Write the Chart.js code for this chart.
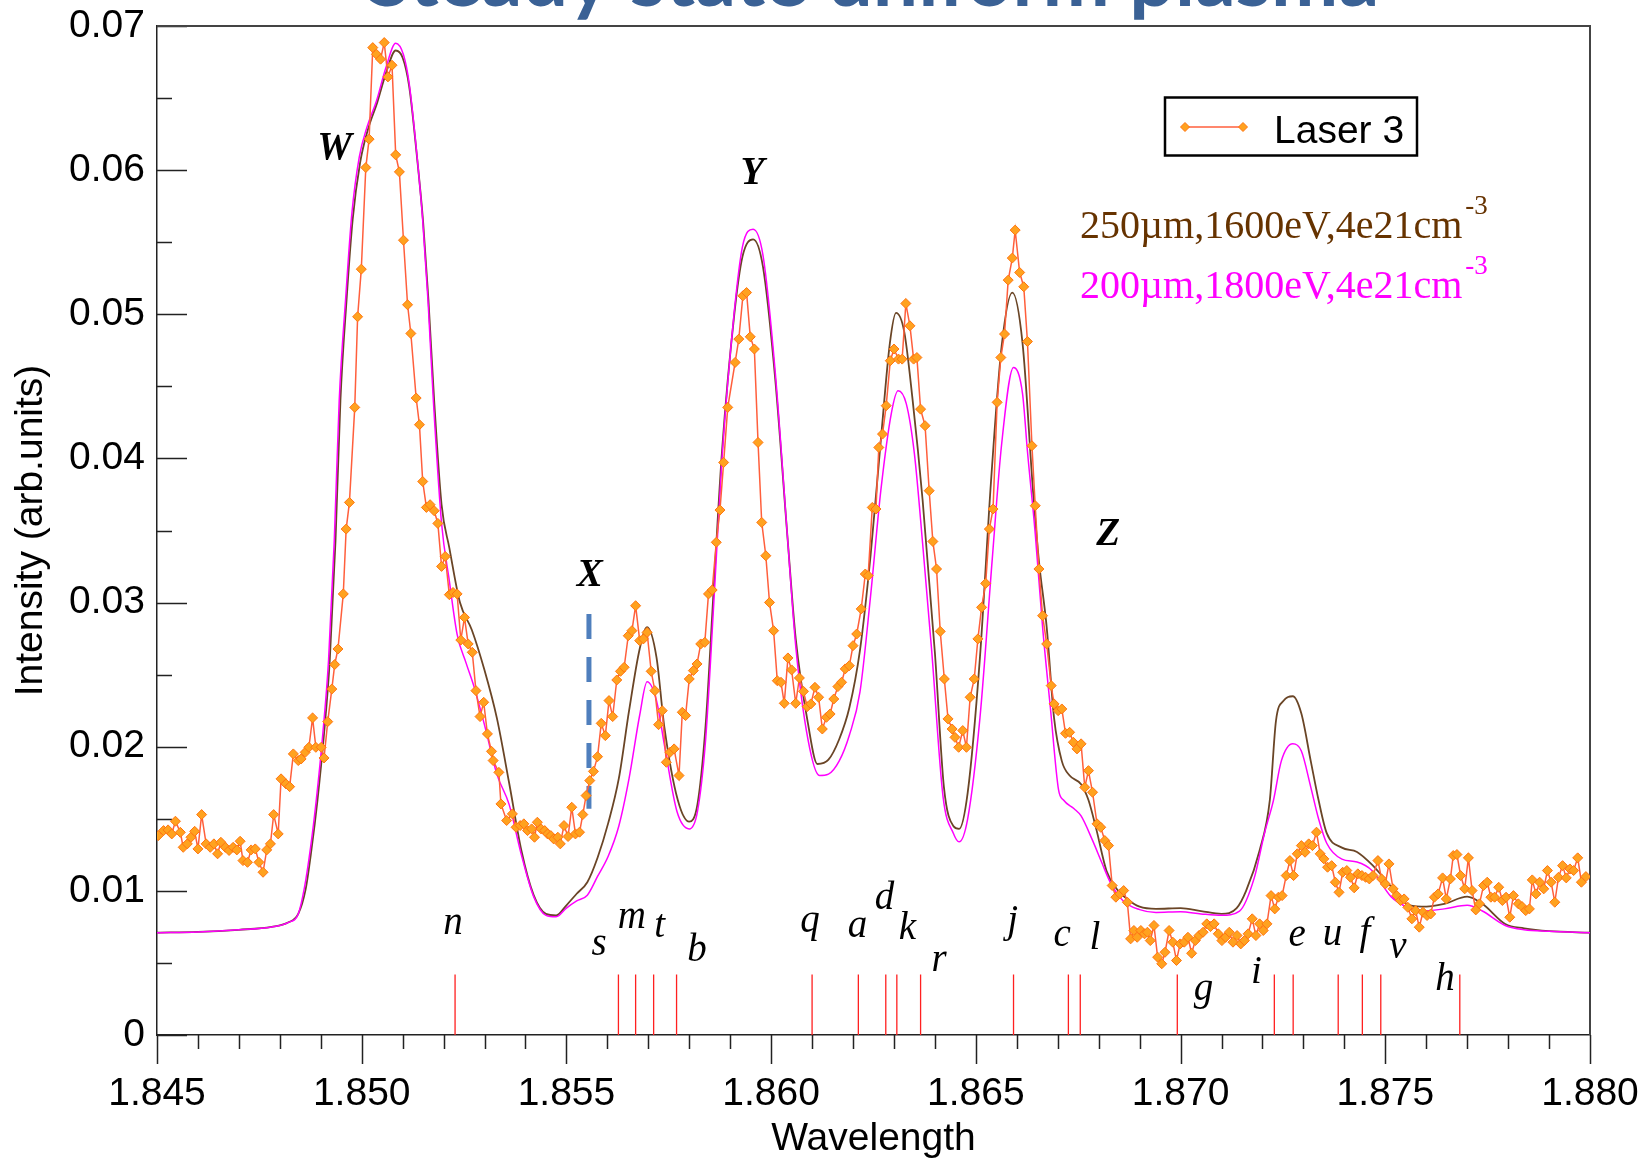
<!DOCTYPE html>
<html lang="en"><head><meta charset="utf-8"><title>Steady state uniform plasma</title>
<script src="https://cdn.jsdelivr.net/npm/chart.js@4.4.1/dist/chart.umd.min.js"></script>
<style>
  html, body { margin: 0; background: #fff; }
  canvas { display: block; }
</style></head>
<body>
<canvas id="c" width="1645" height="1161"></canvas>
<script>
const LASER_3 = [
  [1.84503,.01383],[1.84516,.01418],[1.84527,.01423],[1.84536,.01395],[1.84545,.01483],[1.84557,.01406],
  [1.84564,.01302],[1.84574,.01326],[1.84583,.01372],[1.84592,.01413],[1.84600,.01291],[1.84609,.01529],
  [1.84620,.01326],[1.84630,.01302],[1.84639,.01326],[1.84648,.01257],[1.84656,.01337],[1.84667,.01302],
  [1.84676,.01280],[1.84686,.01302],[1.84695,.01284],[1.84703,.01344],[1.84710,.01210],[1.84721,.01198],
  [1.84730,.01284],[1.84740,.01291],[1.84749,.01198],[1.84759,.01129],[1.84768,.01284],[1.84777,.01326],
  [1.84785,.01529],[1.84796,.01395],[1.84803,.01777],[1.84815,.01742],[1.84824,.01723],[1.84833,.01950],
  [1.84845,.01904],[1.84852,.01915],[1.84862,.01961],[1.84871,.01996],[1.84880,.02200],[1.84888,.01996],
  [1.84901,.01996],[1.84908,.01922],[1.84917,.02174],[1.84927,.02400],[1.84934,.02570],[1.84942,.02678],
  [1.84955,.03060],[1.84962,.03510],[1.84970,.03695],[1.84983,.04354],[1.84990,.04983],[1.84999,.05313],
  [1.85010,.06018],[1.85018,.06215],[1.85027,.06850],[1.85036,.06804],[1.85046,.06770],[1.85055,.06885],
  [1.85064,.06647],[1.85074,.06728],[1.85083,.06106],[1.85092,.05988],[1.85102,.05514],[1.85112,.05066],
  [1.85120,.04867],[1.85133,.04419],[1.85141,.04234],[1.85149,.03840],[1.85158,.03660],[1.85167,.03679],
  [1.85177,.03637],[1.85186,.03549],[1.85195,.03251],[1.85204,.03320],[1.85214,.03055],[1.85223,.03070],
  [1.85233,.03060],[1.85242,.02740],[1.85251,.02897],[1.85260,.02713],[1.85270,.02655],[1.85279,.02389],
  [1.85289,.02209],[1.85298,.02308],[1.85307,.02089],[1.85317,.01968],[1.85321,.01904],[1.85335,.01822],
  [1.85340,.01603],[1.85354,.01488],[1.85368,.01534],[1.85377,.01441],[1.85387,.01453],[1.85396,.01465],
  [1.85405,.01418],[1.85415,.01430],[1.85422,.01372],[1.85429,.01476],[1.85438,.01430],[1.85447,.01418],
  [1.85454,.01395],[1.85462,.01383],[1.85469,.01360],[1.85479,.01372],[1.85485,.01326],[1.85494,.01453],
  [1.85504,.01377],[1.85513,.01580],[1.85522,.01395],[1.85532,.01407],[1.85540,.01529],[1.85548,.01661],
  [1.85557,.01765],[1.85566,.01829],[1.85576,.01931],[1.85585,.02162],[1.85595,.02077],[1.85604,.02320],
  [1.85613,.02209],[1.85623,.02463],[1.85632,.02523],[1.85641,.02551],[1.85651,.02770],[1.85660,.02805],
  [1.85669,.02978],[1.85679,.02736],[1.85688,.02748],[1.85697,.02793],[1.85707,.02523],[1.85716,.02389],
  [1.85725,.02153],[1.85734,.02250],[1.85744,.01892],[1.85753,.01961],[1.85763,.01985],[1.85775,.01800],
  [1.85783,.02239],[1.85791,.02216],[1.85800,.02470],[1.85810,.02528],[1.85819,.02574],[1.85828,.02713],
  [1.85838,.02724],[1.85847,.03060],[1.85856,.03087],[1.85866,.03418],[1.85875,.03642],[1.85884,.03972],
  [1.85894,.04354],[1.85912,.04666],[1.85921,.04828],[1.85931,.05128],[1.85940,.05151],[1.85949,.04844],
  [1.85959,.04759],[1.85968,.04111],[1.85977,.03556],[1.85987,.03325],[1.85996,.03001],[1.86006,.02805],
  [1.86015,.02458],[1.86024,.02447],[1.86032,.02301],[1.86041,.02616],[1.86050,.02533],[1.86060,.02301],
  [1.86069,.02477],[1.86079,.02384],[1.86088,.02278],[1.86097,.02297],[1.86107,.02412],[1.86116,.02343],
  [1.86125,.02123],[1.86135,.02204],[1.86144,.02227],[1.86153,.02331],[1.86163,.02417],[1.86172,.02447],
  [1.86181,.02540],[1.86191,.02562],[1.86200,.02701],[1.86209,.02782],[1.86220,.02956],[1.86230,.03198],
  [1.86237,.03187],[1.86247,.03660],[1.86256,.03649],[1.86263,.04076],[1.86272,.04169],[1.86281,.04366],
  [1.86291,.04678],[1.86300,.04759],[1.86311,.04689],[1.86320,.04689],[1.86329,.05075],[1.86339,.04920],
  [1.86348,.04689],[1.86356,.04700],[1.86365,.04342],[1.86376,.04227],[1.86386,.03776],[1.86395,.03424],
  [1.86404,.03233],[1.86413,.02800],[1.86423,.02470],[1.86432,.02193],[1.86442,.02123],[1.86449,.02065],
  [1.86458,.01996],[1.86468,.02112],[1.86477,.01996],[1.86486,.02343],[1.86496,.02470],[1.86505,.02748],
  [1.86514,.02967],[1.86524,.03133],[1.86533,.03510],[1.86542,.03649],[1.86552,.04389],[1.86561,.04700],
  [1.86570,.04863],[1.86579,.05237],[1.86589,.05390],[1.86596,.05584],[1.86607,.05290],[1.86617,.05191],
  [1.86626,.04811],[1.86637,.04088],[1.86645,.03672],[1.86654,.03233],[1.86663,.02909],[1.86673,.02713],
  [1.86684,.02424],[1.86691,.02297],[1.86701,.02250],[1.86710,.02262],[1.86719,.02093],[1.86729,.02100],
  [1.86738,.02031],[1.86747,.01985],[1.86757,.02020],[1.86766,.01718],[1.86775,.01834],[1.86785,.01684],
  [1.86796,.01465],[1.86805,.01441],[1.86815,.01349],[1.86824,.01314],[1.86833,.01037],[1.86842,.00956],
  [1.86852,.00979],[1.86861,.01002],[1.86870,.00921],[1.86878,.00667],[1.86886,.00725],[1.86894,.00678],
  [1.86903,.00725],[1.86912,.00702],[1.86919,.00713],[1.86926,.00655],[1.86935,.00760],[1.86944,.00540],
  [1.86954,.00494],[1.86962,.00574],[1.86972,.00725],[1.86981,.00644],[1.86990,.00517],[1.86999,.00632],
  [1.87009,.00644],[1.87018,.00678],[1.87027,.00567],[1.87036,.00655],[1.87045,.00690],[1.87055,.00713],
  [1.87064,.00771],[1.87073,.00752],[1.87082,.00771],[1.87092,.00702],[1.87101,.00655],[1.87110,.00678],
  [1.87119,.00713],[1.87128,.00644],[1.87138,.00690],[1.87147,.00632],[1.87156,.00655],[1.87165,.00702],
  [1.87175,.00806],[1.87184,.00690],[1.87193,.00771],[1.87202,.00725],[1.87211,.00771],[1.87221,.00967],
  [1.87230,.00875],[1.87239,.00956],[1.87248,.00967],[1.87258,.01106],[1.87267,.01210],[1.87276,.01106],
  [1.87285,.01257],[1.87295,.01314],[1.87304,.01268],[1.87313,.01326],[1.87322,.01314],[1.87332,.01407],
  [1.87341,.01257],[1.87350,.01222],[1.87359,.01164],[1.87369,.01175],[1.87378,.01060],[1.87387,.00990],
  [1.87396,.01129],[1.87406,.01141],[1.87415,.01094],[1.87424,.01021],[1.87433,.01118],[1.87443,.01106],
  [1.87452,.01094],[1.87461,.01083],[1.87470,.01106],[1.87482,.01210],[1.87491,.01083],[1.87500,.01048],
  [1.87509,.01187],[1.87519,.01014],[1.87528,.00967],[1.87537,.00933],[1.87546,.00944],[1.87555,.00886],
  [1.87565,.00806],[1.87574,.00863],[1.87583,.00748],[1.87592,.00852],[1.87602,.00829],[1.87611,.00840],
  [1.87620,.00956],[1.87629,.00979],[1.87640,.01090],[1.87649,.00944],[1.87659,.01083],[1.87666,.01245],
  [1.87675,.01252],[1.87684,.01106],[1.87694,.01014],[1.87703,.01229],[1.87712,.01002],[1.87721,.00868],
  [1.87730,.00910],[1.87740,.01037],[1.87749,.01060],[1.87758,.00956],[1.87767,.00956],[1.87777,.01025],
  [1.87786,.00933],[1.87795,.00956],[1.87804,.00817],[1.87813,.00967],[1.87825,.00910],[1.87834,.00891],
  [1.87843,.00863],[1.87852,.00875],[1.87859,.01076],[1.87868,.00979],[1.87877,.01060],[1.87887,.01014],
  [1.87896,.01141],[1.87905,.01060],[1.87914,.00921],[1.87923,.01094],[1.87933,.01175],[1.87942,.01090],
  [1.87951,.01152],[1.87960,.01141],[1.87970,.01229],[1.87979,.01060],[1.87990,.01099],
];

// Model: 250 µm, 1600 eV, 4e21 cm^-3 (brown).
const SIM_250 = [
  [1.8450,.0071],[1.8460,.00715],[1.8470,.0073],[1.8478,.0075],[1.8482,.0078],[1.84845,.0084],[1.84863,.0101],
  [1.84877,.0128],[1.84892,.0163],[1.84908,.0209],[1.84922,.0260],[1.84936,.0343],[1.84948,.0440],[1.84963,.0510],
  [1.84978,.0566],[1.84996,.0605],[1.85015,.0628],[1.85038,.0647],[1.85060,.0668],[1.85083,.0683],[1.85100,.0678],
  [1.85116,.0658],[1.85134,.0612],[1.85150,.0564],[1.85163,.0510],[1.85177,.0440],[1.85195,.0368],[1.85214,.0338],
  [1.85240,.0300],[1.85269,.0281],[1.85300,.0253],[1.85330,.0220],[1.85360,.0175],[1.85390,.0128],[1.85420,.0097],
  [1.85450,.0084],[1.85475,.0083],[1.85500,.0090],[1.85525,.0098],[1.85551,.0106],[1.85576,.0123],[1.85602,.0147],
  [1.85628,.0178],[1.85653,.0225],[1.85679,.0268],[1.85697,.0283],[1.85720,.0262],[1.85739,.0214],[1.85772,.0163],
  [1.85800,.0148],[1.85820,.0160],[1.85840,.0215],[1.85860,.0311],[1.85880,.0405],[1.85910,.0500],[1.85930,.0540],
  [1.85956,.0552],[1.85980,.0533],[1.86010,.0455],[1.86040,.0345],[1.86060,.0275],[1.86090,.0216],[1.86113,.0188],
  [1.86140,.0191],[1.86166,.0205],[1.86191,.0227],[1.86217,.0267],[1.86243,.0333],[1.86268,.0413],[1.86290,.0480],
  [1.86305,.0501],[1.86325,.0488],[1.86345,.0442],[1.86370,.0371],[1.86400,.0265],[1.86422,.0172],[1.86445,.0145],
  [1.86459,.0143],[1.86480,.0168],[1.86510,.0262],[1.86537,.0384],[1.86563,.0478],[1.86589,.0515],[1.86614,.0480],
  [1.86640,.0376],[1.86654,.0329],[1.86673,.0283],[1.86691,.0220],[1.86710,.0190],[1.86729,.0180],[1.86757,.0174],
  [1.86775,.0163],[1.86794,.0143],[1.86819,.0114],[1.86845,.0101],[1.86871,.0094],[1.86900,.0089],[1.86940,.00875],
  [1.87000,.0088],[1.87050,.0086],[1.87100,.0084],[1.87137,.0088],[1.87160,.0100],[1.87193,.0128],[1.87218,.0163],
  [1.87233,.0218],[1.87252,.0232],[1.87274,.0235],[1.87295,.0223],[1.87318,.0190],[1.87337,.0163],[1.87357,.0140],
  [1.87394,.0130],[1.87431,.0127],[1.87468,.0118],[1.87514,.0103],[1.87551,.0091],[1.87588,.0089],[1.87644,.0091],
  [1.87700,.0096],[1.87737,.0091],[1.87793,.0077],[1.87839,.0074],[1.87900,.0072],[1.88000,.0071],
];

// Model: 200 µm, 1800 eV, 4e21 cm^-3 (magenta).
const SIM_200 = [
  [1.8450,.0071],[1.8460,.00715],[1.8470,.0073],[1.8478,.0075],[1.8482,.0078],[1.84845,.0084],[1.84860,.0102],
  [1.84875,.0130],[1.84889,.0163],[1.84905,.0209],[1.84919,.0260],[1.84933,.0343],[1.84945,.0440],[1.84961,.0512],
  [1.84976,.0570],[1.84994,.0609],[1.85013,.0630],[1.85036,.0648],[1.85059,.0671],[1.85083,.0688],[1.85102,.0680],
  [1.85116,.0660],[1.85134,.0613],[1.85149,.0565],[1.85162,.0509],[1.85175,.0440],[1.85195,.0355],[1.85214,.0315],
  [1.85233,.0278],[1.85255,.0258],[1.85275,.0241],[1.85300,.0215],[1.85330,.0181],[1.85360,.0160],[1.85390,.0125],
  [1.85420,.0096],[1.85450,.0083],[1.85475,.0082],[1.85500,.0088],[1.85525,.0093],[1.85551,.0097],[1.85576,.0110],
  [1.85602,.0124],[1.85628,.0145],[1.85653,.0178],[1.85679,.0222],[1.85697,.0245],[1.85720,.0232],[1.85740,.0200],
  [1.85770,.0155],[1.85800,.0143],[1.85820,.0155],[1.85840,.0205],[1.85860,.0300],[1.85880,.0400],[1.85910,.0502],
  [1.85930,.0547],[1.85956,.0559],[1.85980,.0541],[1.86010,.0460],[1.86040,.0345],[1.86060,.0270],[1.86090,.0205],
  [1.86118,.0180],[1.86140,.0181],[1.86166,.0190],[1.86191,.0208],[1.86217,.0238],[1.86243,.0305],[1.86268,.0378],
  [1.86294,.0432],[1.86310,.0447],[1.86330,.0438],[1.86350,.0403],[1.86370,.0341],[1.86392,.0267],[1.86420,.0165],
  [1.86445,.0140],[1.86459,.0134],[1.86480,.0150],[1.86510,.0220],[1.86540,.0330],[1.86563,.0410],[1.86592,.0463],
  [1.86614,.0445],[1.86626,.0405],[1.86645,.0348],[1.86663,.0283],[1.86682,.0227],[1.86702,.0170],[1.86714,.0163],
  [1.86740,.0157],[1.86757,.0152],[1.86785,.0135],[1.86807,.0120],[1.86830,.0105],[1.86860,.0093],[1.86900,.0087],
  [1.86940,.0085],[1.87000,.00855],[1.87050,.0084],[1.87100,.0083],[1.87144,.0086],[1.87180,.0109],[1.87205,.0140],
  [1.87227,.0163],[1.87246,.0190],[1.87274,.0202],[1.87295,.0197],[1.87318,.0172],[1.87337,.0150],[1.87357,.0133],
  [1.87394,.0122],[1.87431,.0120],[1.87468,.0114],[1.87514,.0096],[1.87551,.0089],[1.87588,.0086],[1.87644,.00875],
  [1.87700,.0090],[1.87737,.0086],[1.87793,.0076],[1.87839,.0073],[1.87900,.0072],[1.88000,.0071],
];

// Satellite line identifications: name and wavelength of each red stick.
const LINE_NAMES = ['n','s','m','t','b','q','a','d','k','r','j','c','l','g','i','e','u','f','v','h'];
const LINE_WL = [1.85228,1.85627,1.85669,1.85713,1.85769,1.86100,1.86213,1.86280,1.86307,1.86365,
                 1.86592,1.86726,1.86755,1.86992,1.87229,1.87275,1.87385,1.87444,1.87489,1.87682];
const LINE_HEIGHT = 0.0042;

// Position of the X line marker (dashed) and its vertical extent.
const X_MARK_WL = 1.85555;
const X_MARK_RANGE = [0.0292, 0.0157];

// Where each stick letter sits, in data units (layout only).
const LETTER_AT = {
  n: [1.85223,.00704], s: [1.85580,.00558], m: [1.85660,.00743], t: [1.85728,.00678], b: [1.85819,.00512],
  q: [1.86095,.00713], a: [1.86211,.00683], d: [1.86277,.00875], k: [1.86333,.00667], r: [1.86410,.00447],
  j: [1.86590,.00713], c: [1.86711,.00614], l: [1.86791,.00598], g: [1.87056,.00244], i: [1.87185,.00359],
  e: [1.87285,.00614], u: [1.87371,.00621], f: [1.87450,.00628], v: [1.87531,.00535], h: [1.87646,.00313],
};
const PEAK_LABELS = [['W',1.84934,.06076],['Y',1.85954,.05903],['X',1.85557,.03117],['Z',1.86823,.03402]];

const LASER_LINE = '#ff5f3c', LASER_FILL = '#ffa21f', LASER_EDGE = '#ff7410';
const BROWN = '#6a4526', MAGENTA = '#ff00ff';
const SANS = '"Liberation Sans", Arial, sans-serif';
const SERIF = '"Liberation Serif", "Times New Roman", serif';

const pts = a => a.map(([x, y]) => ({ x, y }));
const sticks = LINE_WL.flatMap(x => [{ x, y: 0 }, { x, y: LINE_HEIGHT }, { x, y: null }]);

function diamond(ctx, x, y, r) {
  ctx.beginPath();
  ctx.moveTo(x - r, y); ctx.lineTo(x, y - r); ctx.lineTo(x + r, y); ctx.lineTo(x, y + r);
  ctx.closePath();
  ctx.fillStyle = LASER_FILL; ctx.fill();
  ctx.strokeStyle = LASER_EDGE; ctx.lineWidth = 1; ctx.stroke();
}

// Frame and tick marks: y ticks point into the plot, x ticks hang below it.
const frame = {
  id: 'frame',
  beforeDatasetsDraw(chart) {
    const { ctx, chartArea: a, scales: { x, y } } = chart;
    ctx.save();
    ctx.strokeStyle = '#222'; ctx.lineWidth = 1.5;
    ctx.beginPath();
    for (let i = 0; i <= 14; i++) {
      const py = Math.round(y.getPixelForValue(i * 0.005)) + 0.5;
      ctx.moveTo(a.left, py); ctx.lineTo(a.left + (i % 2 ? 15 : 30), py);
    }
    for (let i = 0; i <= 35; i++) {
      const px = Math.round(x.getPixelForValue(1.845 + i * 0.001)) + 0.5;
      ctx.moveTo(px, a.bottom); ctx.lineTo(px, a.bottom + (i % 5 ? 14 : 29));
    }
    ctx.stroke();
    ctx.strokeStyle = '#444'; ctx.lineWidth = 2;
    ctx.beginPath();
    ctx.moveTo(a.left, a.top); ctx.lineTo(a.right, a.top); ctx.lineTo(a.right, a.bottom);
    ctx.stroke();
    ctx.restore();
  },
  afterDatasetsDraw(chart) {
    const { ctx, scales: { x, y } } = chart;
    ctx.save();
    ctx.textAlign = 'center'; ctx.textBaseline = 'alphabetic'; ctx.fillStyle = '#000';

    ctx.font = `italic 39px ${SERIF}`;
    LINE_NAMES.forEach(n => {
      const [lx, ly] = LETTER_AT[n];
      ctx.fillText(n, x.getPixelForValue(lx), y.getPixelForValue(ly));
    });
    ctx.font = `bold italic 39px ${SERIF}`;
    PEAK_LABELS.forEach(([t, lx, ly]) => ctx.fillText(t, x.getPixelForValue(lx), y.getPixelForValue(ly)));

    // Model annotations with superscript exponent.
    ctx.textAlign = 'left';
    [['250\u00b5m,1600eV,4e21cm', '#663300', 238], ['200\u00b5m,1800eV,4e21cm', MAGENTA, 298]].forEach(([t, col, base]) => {
      ctx.fillStyle = col;
      ctx.font = `40px ${SERIF}`;
      ctx.fillText(t, 1080, base);
      const w = ctx.measureText(t).width;
      ctx.font = `27px ${SERIF}`;
      ctx.fillText('-3', 1080 + w + 3, base - 24);
    });

    // Legend box.
    ctx.strokeStyle = '#000'; ctx.lineWidth = 2.5;
    ctx.strokeRect(1165, 97.5, 252, 58);
    ctx.strokeStyle = LASER_LINE; ctx.lineWidth = 1.5;
    ctx.beginPath(); ctx.moveTo(1185, 127); ctx.lineTo(1243, 127); ctx.stroke();
    diamond(ctx, 1185, 127, 4.5); diamond(ctx, 1243, 127, 4.5);
    ctx.fillStyle = '#000'; ctx.font = `39px ${SANS}`;
    ctx.fillText('Laser 3', 1274, 143);

    // Slide title, cut off by the top edge.
    const title = 'Steady state uniform plasma';
    ctx.font = `bold 60px Lato, "Open Sans", sans-serif`;
    const size = 60 * 1013 / ctx.measureText(title).width;
    ctx.font = `bold ${size.toFixed(1)}px Lato, "Open Sans", sans-serif`;
    ctx.fillStyle = '#3a6195'; ctx.textAlign = 'center';
    ctx.fillText(title, 873, 6);
    ctx.restore();
  },
};

new Chart(document.getElementById('c'), {
  type: 'line',
  data: {
    datasets: [
      {
        label: 'Laser 3', data: pts(LASER_3), order: 0,
        borderColor: LASER_LINE, borderWidth: 1.5, tension: 0,
        pointStyle: 'rectRot', pointRadius: 5, pointBackgroundColor: LASER_FILL,
        pointBorderColor: LASER_EDGE, pointBorderWidth: 1,
      },
      {
        label: 'X', data: [{ x: X_MARK_WL, y: X_MARK_RANGE[0] }, { x: X_MARK_WL, y: X_MARK_RANGE[1] }], order: 1,
        borderColor: '#4f7fbd', borderWidth: 5, borderDash: [25, 18], pointRadius: 0,
      },
      {
        label: '200um', data: pts(SIM_200), order: 2,
        borderColor: MAGENTA, borderWidth: 1.5, pointRadius: 0, cubicInterpolationMode: 'monotone',
      },
      {
        label: '250um', data: pts(SIM_250), order: 3,
        borderColor: BROWN, borderWidth: 1.8, pointRadius: 0, cubicInterpolationMode: 'monotone',
      },
      {
        label: 'lines', data: sticks, order: 4, spanGaps: false,
        borderColor: '#ff2020', borderWidth: 1.3, pointRadius: 0,
      },
    ],
  },
  options: {
    responsive: false, animation: false, devicePixelRatio: 1,
    layout: { padding: { top: 26, right: 55, bottom: 0, left: 0 } },
    plugins: { legend: { display: false }, tooltip: { enabled: false } },
    scales: {
      x: {
        type: 'linear', min: 1.845, max: 1.880,
        // Fixed box: labels may overhang into the page margins.
        afterFit: s => { s.height = 126; s.paddingLeft = 0; s.paddingRight = 0; },
        grid: { drawOnChartArea: false, drawTicks: false },
        border: { color: '#222', width: 1.5 },
        ticks: {
          stepSize: 0.005, autoSkip: false, maxRotation: 0, padding: 36, color: '#000',
          font: { family: SANS, size: 39 }, callback: v => v.toFixed(3),
        },
        title: {
          display: true, text: 'Wavelength', color: '#000',
          font: { family: SANS, size: 39, lineHeight: 1.1 }, padding: { bottom: 0 },
        },
      },
      y: {
        min: 0, max: 0.07,
        afterFit: s => { s.width = 157; s.paddingTop = 0; s.paddingBottom = 0; },
        grid: { drawOnChartArea: false, drawTicks: false },
        border: { color: '#222', width: 1.5 },
        ticks: {
          stepSize: 0.01, padding: 12, color: '#000', font: { family: SANS, size: 39 },
          callback: v => (Math.abs(v) < 1e-9 ? '0' : (Math.round(v * 100) / 100).toFixed(2)),
        },
        title: { display: true, text: 'Intensity (arb.units)', color: '#000', font: { family: SANS, size: 39 }, padding: { top: 8 } },
      },
    },
  },
  plugins: [frame],
});
</script>
</body></html>
